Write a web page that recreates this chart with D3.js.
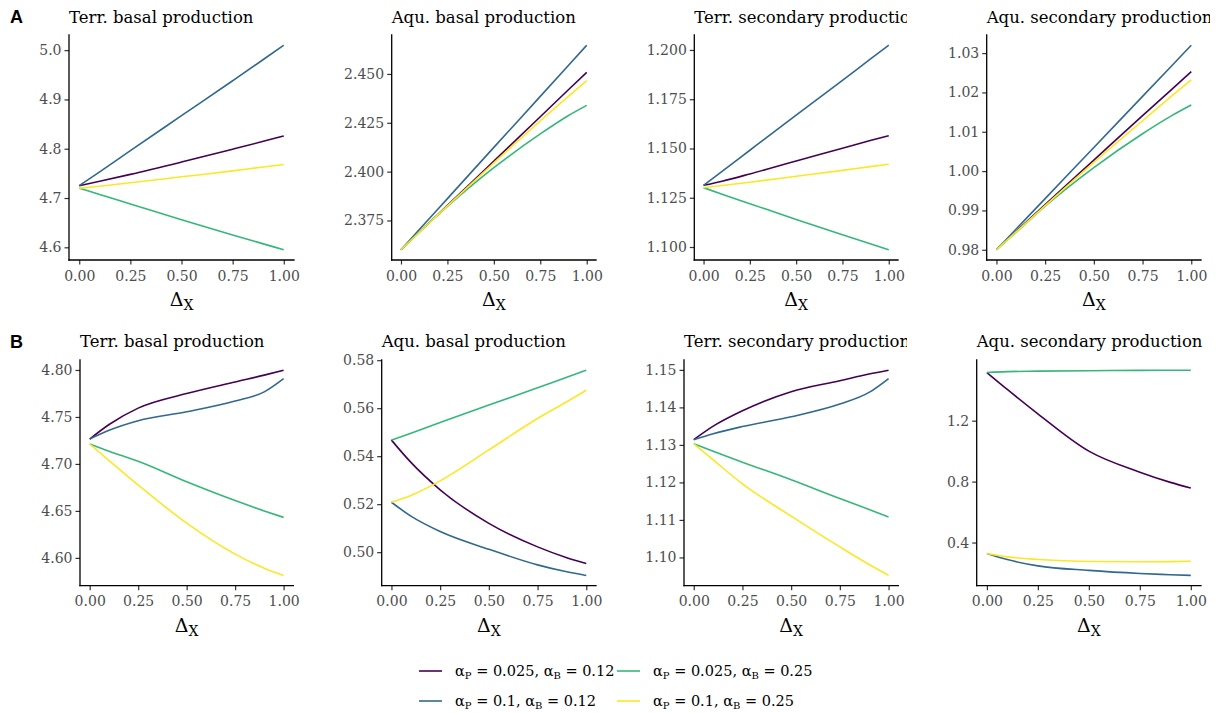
<!DOCTYPE html>
<html>
<head>
<meta charset="utf-8">
<script src="https://cdn.jsdelivr.net/npm/d3@7"></script>
<style>
  html, body { margin: 0; padding: 0; background: #fff; }
  svg { display: block; }
</style>
</head>
<body>
<svg id="chart" width="1222" height="713"></svg>
<script>
// Shared x positions (Δ_X) at which each curve is sampled
const deltaX = [0, 0.1, 0.25, 0.5, 0.75, 0.9, 1];
const xTicks = [0, 0.25, 0.5, 0.75, 1];

// Parameter combinations (legend order) and their viridis colours
const comboP = ["0.025", "0.1", "0.025", "0.1"];
const comboB = ["0.12", "0.12", "0.25", "0.25"];
const comboColors = ["#440154", "#31688E", "#35B779", "#FDE725"];

const panelTitles = ["Terr. basal production", "Aqu. basal production",
                     "Terr. secondary production", "Aqu. secondary production"];
const rowTags = ["A", "B"];

// Row A — one array per combination: [αP=0.025,αB=0.12], [0.1,0.12], [0.025,0.25], [0.1,0.25]
const aTerrBasal = [
  [4.725, 4.734, 4.748, 4.773, 4.799, 4.815, 4.826],
  [4.725, 4.753, 4.796, 4.867, 4.938, 4.981, 5.010],
  [4.720, 4.707, 4.688, 4.656, 4.625, 4.607, 4.595],
  [4.720, 4.724, 4.731, 4.743, 4.755, 4.763, 4.768]
];
const aAquBasal = [
  [2.360, 2.3692, 2.3827, 2.4054, 2.4281, 2.4418, 2.4508],
  [2.360, 2.3705, 2.3862, 2.4124, 2.4385, 2.4542, 2.4647],
  [2.360, 2.3692, 2.3822, 2.4020, 2.4193, 2.4286, 2.4339],
  [2.360, 2.3691, 2.3825, 2.4045, 2.4260, 2.4384, 2.4466]
];
const aTerrSecondary = [
  [1.1313, 1.1334, 1.1371, 1.1437, 1.1501, 1.1540, 1.1565],
  [1.1313, 1.1384, 1.1491, 1.1669, 1.1846, 1.1953, 1.2024],
  [1.1301, 1.1268, 1.1220, 1.1140, 1.1062, 1.1016, 1.0986],
  [1.1301, 1.1312, 1.1329, 1.1359, 1.1389, 1.1408, 1.1420]
];
const aAquSecondary = [
  [0.980, 0.9846, 0.9915, 1.0028, 1.0141, 1.0208, 1.0253],
  [0.980, 0.9852, 0.9930, 1.0060, 1.0190, 1.0268, 1.0320],
  [0.980, 0.9844, 0.9911, 1.0009, 1.0095, 1.0141, 1.0168],
  [0.980, 0.9845, 0.9912, 1.0022, 1.0128, 1.0191, 1.0232]
];

// Row B
const bTerrBasal = [
  [4.7265, 4.7420, 4.7594, 4.7749, 4.7873, 4.7945, 4.7997],
  [4.7265, 4.7358, 4.7460, 4.7555, 4.7670, 4.7767, 4.7908],
  [4.7212, 4.7135, 4.7028, 4.6810, 4.6610, 4.6500, 4.6431],
  [4.7212, 4.7035, 4.6775, 4.6370, 4.6040, 4.5890, 4.5813]
];
const bAquBasal = [
  [0.5467, 0.5374, 0.5260, 0.5120, 0.5022, 0.4977, 0.4953],
  [0.5208, 0.5150, 0.5086, 0.5012, 0.4947, 0.4918, 0.4903],
  [0.5467, 0.5496, 0.5540, 0.5613, 0.5685, 0.5729, 0.5758],
  [0.5208, 0.5236, 0.5297, 0.5426, 0.5557, 0.5627, 0.5675]
];
const bTerrSecondary = [
  [1.1314, 1.1350, 1.1391, 1.1442, 1.1471, 1.1489, 1.1499],
  [1.1314, 1.1330, 1.1349, 1.1375, 1.1409, 1.1440, 1.1477],
  [1.1303, 1.1283, 1.1254, 1.1207, 1.1157, 1.1128, 1.1108],
  [1.1303, 1.1260, 1.1196, 1.1110, 1.1028, 1.0981, 1.0952]
];
const bAquSecondary = [
  [1.516, 1.405, 1.245, 1.000, 0.862, 0.795, 0.7575],
  [0.328, 0.288, 0.247, 0.217, 0.197, 0.189, 0.184],
  [1.516, 1.522, 1.525, 1.528, 1.530, 1.531, 1.531],
  [0.328, 0.306, 0.289, 0.276, 0.274, 0.275, 0.277]
];

// Y-axis breaks and label formats per panel
const aTicks = [[4.6, 4.7, 4.8, 4.9, 5.0], [2.375, 2.400, 2.425, 2.450],
                [1.100, 1.125, 1.150, 1.175, 1.200], [0.98, 0.99, 1.00, 1.01, 1.02, 1.03]];
const bTicks = [[4.60, 4.65, 4.70, 4.75, 4.80], [0.50, 0.52, 0.54, 0.56, 0.58],
                [1.10, 1.11, 1.12, 1.13, 1.14, 1.15], [0.4, 0.8, 1.2]];
const aFormats = [".1f", ".3f", ".3f", ".2f"];
const bFormats = [".2f", ".2f", ".2f", ".1f"];

// ---- layout ----
const svg = d3.select("#chart");
const serif = "DejaVu Serif, serif";
const cellRight = [303, 605, 907, 1210];
const rows = [
  { tag: rowTags[0], data: [aTerrBasal, aAquBasal, aTerrSecondary, aAquSecondary],
    ticks: aTicks, formats: aFormats, top: 35, bottom: 260,
    lefts: [69, 391.7, 694.3, 986.7], rights: [294, 596, 898, 1201],
    titleY: 22.5, tagY: 23 },
  { tag: rowTags[1], data: [bTerrBasal, bAquBasal, bTerrSecondary, bAquSecondary],
    ticks: bTicks, formats: bFormats, top: 360, bottom: 585.7,
    lefts: [80, 381.7, 684, 976.7], rights: [293.3, 596, 898.3, 1201],
    titleY: 347, tagY: 348 }
];

const defs = svg.append("defs");

// Padded extent, like a 5% multiplicative expansion
function padded(ext) {
  const r = ext[1] - ext[0];
  return [ext[0] - 0.05 * r, ext[1] + 0.05 * r];
}

rows.forEach((row, ri) => {
  svg.append("text")
    .attr("x", 10).attr("y", row.tagY)
    .attr("font-family", "Liberation Sans, Arial, sans-serif")
    .attr("font-weight", "bold").attr("font-size", 18)
    .text(row.tag);

  row.data.forEach((panel, pi) => {
    const left = row.lefts[pi], right = row.rights[pi];
    const top = row.top, bottom = row.bottom;
    const allVals = panel.flat();
    const x = d3.scaleLinear().domain(padded([0, 1])).range([left, right]);
    const y = d3.scaleLinear().domain(padded(d3.extent(allVals))).range([bottom, top]);

    // Title, clipped at the cell edge
    const clipId = `clip-${ri}-${pi}`;
    defs.append("clipPath").attr("id", clipId)
      .append("rect").attr("x", left - 5).attr("y", top - 40)
      .attr("width", cellRight[pi] - left + 5).attr("height", 40);
    svg.append("text")
      .attr("clip-path", `url(#${clipId})`)
      .attr("x", left).attr("y", row.titleY)
      .attr("font-family", serif).attr("font-size", 16.5).attr("fill", "#000")
      .text(panelTitles[pi]);

    // Lines
    const line = d3.line()
      .x((d, i) => x(deltaX[i]))
      .y(d => y(d))
      .curve(d3.curveMonotoneX);
    panel.forEach((vals, si) => {
      svg.append("path")
        .datum(vals)
        .attr("d", line)
        .attr("fill", "none")
        .attr("stroke", comboColors[si])
        .attr("stroke-width", 1.6)
        .attr("stroke-linejoin", "round");
    });

    // Axes
    const xAxis = d3.axisBottom(x).tickValues(xTicks).tickFormat(d3.format(".2f"))
      .tickSize(4.5).tickPadding(3);
    const yAxis = d3.axisLeft(y).tickValues(row.ticks[pi]).tickFormat(d3.format(row.formats[pi]))
      .tickSize(4.5).tickPadding(3);

    const gx = svg.append("g").attr("transform", `translate(0,${bottom})`).call(xAxis);
    const gy = svg.append("g").attr("transform", `translate(${left},0)`).call(yAxis);
    [gx, gy].forEach(g => {
      g.select(".domain").remove();
      g.selectAll(".tick line").attr("stroke", "#333").attr("stroke-width", 1.2);
      g.selectAll(".tick text").attr("font-family", serif).attr("font-size", 14)
        .attr("fill", "#4d4d4d");
    });
    gx.selectAll(".tick text").attr("dy", "0.95em");
    // axis lines
    svg.append("line").attr("x1", left).attr("x2", right).attr("y1", bottom).attr("y2", bottom)
      .attr("stroke", "#000").attr("stroke-width", 1.3).attr("stroke-linecap", "square");
    svg.append("line").attr("x1", left).attr("x2", left).attr("y1", top).attr("y2", bottom)
      .attr("stroke", "#000").attr("stroke-width", 1.3).attr("stroke-linecap", "square");

    // x-axis title Δ_X
    const xt = svg.append("text")
      .attr("x", (left + right) / 2).attr("y", bottom + 46)
      .attr("text-anchor", "middle")
      .attr("font-family", serif).attr("font-size", 19).attr("fill", "#000");
    xt.append("tspan").text("Δ");
    xt.append("tspan").attr("font-size", 14).attr("dy", 4).text("X");
  });
});

// ---- legend ----
const legendCols = [419, 617];
const legendRows = [671, 701];
comboColors.forEach((c, i) => {
  const col = Math.floor(i / 2), r = i % 2;
  const kx = legendCols[col], ky = legendRows[r];
  svg.append("line")
    .attr("x1", kx).attr("x2", kx + 23).attr("y1", ky).attr("y2", ky)
    .attr("stroke", c).attr("stroke-width", 1.6);
  const t = svg.append("text")
    .attr("x", kx + 36).attr("y", ky + 5)
    .attr("font-family", serif).attr("font-size", 14.5).attr("fill", "#000");
  t.append("tspan").text("α");
  t.append("tspan").attr("font-size", 10).attr("dy", 3).text("P");
  t.append("tspan").attr("dy", -3).text(` = ${comboP[i]}, α`);
  t.append("tspan").attr("font-size", 10).attr("dy", 3).text("B");
  t.append("tspan").attr("dy", -3).text(` = ${comboB[i]}`);
});
</script>
</body>
</html>
